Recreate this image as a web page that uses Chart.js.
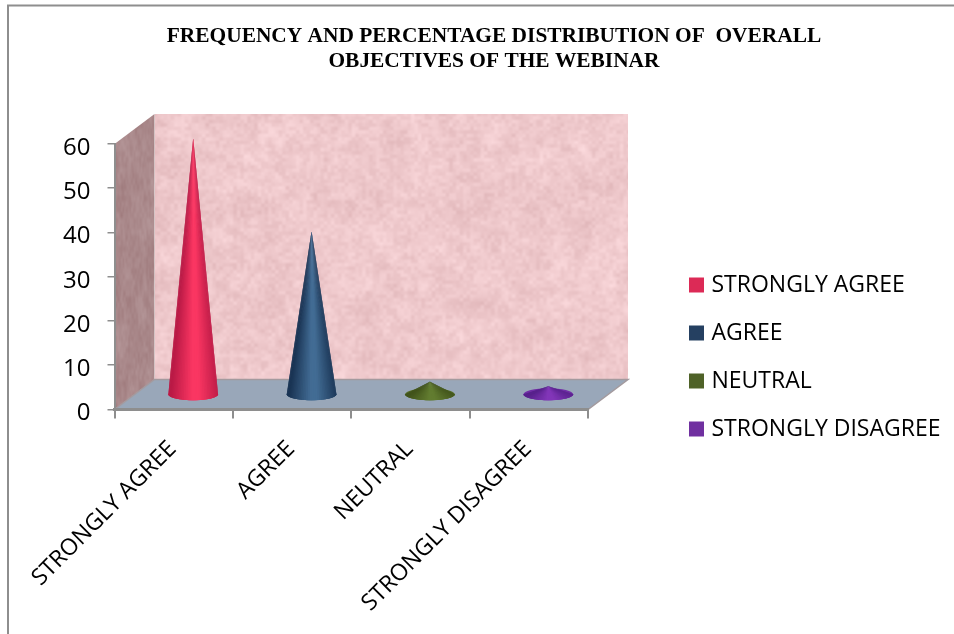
<!DOCTYPE html>
<html>
<head>
<meta charset="utf-8">
<title>Overall objectives of the webinar</title>
<script src="https://cdn.jsdelivr.net/npm/chart.js@4/dist/chart.umd.min.js"></script>
<style>
  html, body { margin: 0; padding: 0; background: #fff; }
  canvas { display: block; }
</style>
</head>
<body>
<canvas id="grafico" width="954" height="634"></canvas>
<script>
const categorias = ['STRONGLY AGREE', 'AGREE', 'NEUTRAL', 'STRONGLY DISAGREE'];
const valores = [58, 37, 3, 2];
const colores = ['#dc2a56', '#254061', '#4f6228', '#7030a0'];
const coloresCentro = [[250, 54, 98], [66, 108, 148], [98, 124, 48], [130, 54, 184]];
const coloresBorde = [[186, 26, 70], [26, 52, 84], [66, 84, 28], [88, 34, 140]];
const titulo = ['FREQUENCY AND PERCENTAGE DISTRIBUTION OF  OVERALL', 'OBJECTIVES OF THE WEBINAR'];

const FUENTE = '"Open Sans"';
const GRIS = '#8e8e8e';
const FONDO_X = 40, FONDO_Y = 30;   // profundidad de la caja 3D
const CONO_X = 19.5, CONO_Y = 14.5; // los conos van en la mitad de la profundidad
const ELIPSE_Y = 6;
const GAJOS = 40;

// ruido determinista para la textura de las paredes
const azar = (x, y) => {
    const s = Math.sin(x * 12.9898 + y * 78.233) * 43758.5453;
    return s - Math.floor(s);
};
const suave = (x, y) => {
    const x0 = Math.floor(x), y0 = Math.floor(y);
    const fx = x - x0, fy = y - y0;
    const u = fx * fx * (3 - 2 * fx), v = fy * fy * (3 - 2 * fy);
    const a = azar(x0, y0), b = azar(x0 + 1, y0), c = azar(x0, y0 + 1), d = azar(x0 + 1, y0 + 1);
    return a + (b - a) * u + (c - a) * v + (a - b - c + d) * u * v;
};
const textura = (w, h, base, fuerza, escX, escY) => {
    const c = document.createElement('canvas');
    c.width = w; c.height = h;
    const g = c.getContext('2d');
    const img = g.createImageData(w, h);
    for (let y = 0; y < h; y++) {
        for (let x = 0; x < w; x++) {
            const n = suave(x / (24 * escX), y / (24 * escY)) * 0.3
                + suave(x / (9 * escX) + 7, y / (9 * escY) + 3) * 0.3
                + suave(x / (3.5 * escX) + 11, y / (3.5 * escY) + 5) * 0.4 - 0.5;
            const i = (y * w + x) * 4;
            img.data[i] = base[0] + n * fuerza;
            img.data[i + 1] = base[1] + n * fuerza * 1.3;
            img.data[i + 2] = base[2] + n * fuerza * 1.3;
            img.data[i + 3] = 255;
        }
    }
    g.putImageData(img, 0, 0);
    return c;
};
const texturaFondo = textura(476, 266, [238, 200, 203], 30, 1, 1);
const texturaLado = textura(41, 296, [170, 137, 139], 28, 0.4, 1.6);

const mezcla = (a, b, t) => `rgb(${a.map((v, k) => Math.round(v + (b[k] - v) * t)).join(',')})`;

// elemento cono: usa la misma geometría que la barra
class ConeElement extends Chart.BarElement {
    draw(ctx) {
        const i = this.$context.dataIndex;
        const cx = this.x + CONO_X;
        const baseY = this.base - CONO_Y;
        const puntaY = this.y - CONO_Y;
        const r = this.width / 2;
        ctx.save();
        ctx.fillStyle = mezcla(coloresBorde[i], coloresCentro[i], 0.6);
        ctx.beginPath();
        ctx.ellipse(cx, baseY, r, ELIPSE_Y, 0, 0, Math.PI * 2);
        ctx.fill();
        // sombreado en gajos desde la punta hasta la mitad inferior de la base;
        // cada gajo pisa al siguiente para que no se vean las uniones
        for (let j = 0; j < GAJOS; j++) {
            const a0 = Math.PI - Math.PI * j / GAJOS;
            const a1 = Math.PI - Math.PI * Math.min(j + 2, GAJOS) / GAJOS;
            const am = Math.PI - Math.PI * (j + 0.5) / GAJOS;
            const t = 1 - Math.abs(Math.cos(am) - 0.1);
            ctx.fillStyle = mezcla(coloresBorde[i], coloresCentro[i], Math.max(0, Math.min(1, t * 1.15)));
            ctx.beginPath();
            ctx.moveTo(cx, puntaY);
            ctx.lineTo(cx + r * Math.cos(a0), baseY + ELIPSE_Y * Math.sin(a0));
            ctx.lineTo(cx + r * Math.cos(am), baseY + ELIPSE_Y * Math.sin(am));
            ctx.lineTo(cx + r * Math.cos(a1), baseY + ELIPSE_Y * Math.sin(a1));
            ctx.closePath();
            ctx.fill();
        }
        ctx.restore();
    }
}
ConeElement.id = 'cone';
ConeElement.defaults = Chart.BarElement.defaults;

class ConeController extends Chart.BarController {}
ConeController.id = 'cone';
ConeController.defaults = { ...Chart.BarController.defaults, dataElementType: 'cone' };
ConeController.overrides = Chart.BarController.overrides;

Chart.register(ConeElement, ConeController);

// marco de la página y caja 3D (paredes y piso) detrás de los ejes
const caja3d = {
    id: 'caja3d',
    beforeInit(chart) {
        const fit = chart.legend.fit;
        chart.legend.fit = function () {
            fit.call(this);
            this.width = 366; // deja el área del gráfico hasta x=588
        };
    },
    afterLayout(chart) {
        chart.legend.left = 668;
        chart.legend.right = 954;
        chart.legend.top = 148;
        chart.legend.bottom = 566;
    },
    beforeDraw(chart) {
        const { ctx, chartArea: a } = chart;
        ctx.save();
        ctx.strokeStyle = GRIS;
        ctx.lineWidth = 2;
        ctx.beginPath();
        ctx.moveTo(8, 634);
        ctx.lineTo(8, 5.5);
        ctx.lineTo(954, 5.5);
        ctx.stroke();

        // pared de fondo
        ctx.drawImage(texturaFondo, a.left + FONDO_X, a.top - FONDO_Y, a.width, a.height);

        // pared lateral
        ctx.save();
        ctx.beginPath();
        ctx.moveTo(a.left, a.top);
        ctx.lineTo(a.left + FONDO_X, a.top - FONDO_Y);
        ctx.lineTo(a.left + FONDO_X, a.bottom - FONDO_Y);
        ctx.lineTo(a.left, a.bottom);
        ctx.closePath();
        ctx.clip();
        ctx.drawImage(texturaLado, a.left, a.top - FONDO_Y);
        ctx.restore();

        // piso
        ctx.fillStyle = '#99a7b9';
        ctx.strokeStyle = '#a39a9e';
        ctx.lineWidth = 1.5;
        ctx.beginPath();
        ctx.moveTo(a.left, a.bottom);
        ctx.lineTo(a.left + FONDO_X, a.bottom - FONDO_Y);
        ctx.lineTo(a.right + FONDO_X, a.bottom - FONDO_Y);
        ctx.lineTo(a.right, a.bottom);
        ctx.closePath();
        ctx.fill();
        ctx.stroke();
        ctx.restore();
    },
};

new Chart(document.getElementById('grafico'), {
    type: 'cone',
    data: {
        labels: categorias,
        datasets: [{
            data: valores,
            backgroundColor: colores,
            categoryPercentage: 1,
            barPercentage: 0.42,
            clip: false,
        }],
    },
    options: {
        responsive: false,
        animation: false,
        layout: { padding: { left: 34, right: 0, top: 0, bottom: 0 } },
        plugins: {
            tooltip: { enabled: false },
            title: {
                display: true,
                text: titulo,
                color: '#000',
                font: { family: '"Liberation Serif"', size: 21.4, weight: 'bold', lineHeight: 1.168 },
                padding: { top: 24, bottom: 70 },
            },
            legend: {
                display: true,
                position: 'right',
                labels: {
                    // caja chica con borde grueso: el cuadro mide 15 px y el texto queda más cerca
                    boxWidth: 7,
                    boxHeight: 7,
                    padding: 25,
                    color: '#000',
                    font: { family: FUENTE, size: 23 },
                    generateLabels: () => categorias.map((nombre, i) => ({
                        text: nombre,
                        fillStyle: colores[i],
                        strokeStyle: colores[i],
                        lineWidth: 8,
                        hidden: false,
                        index: i,
                    })),
                },
            },
        },
        scales: {
            x: {
                grid: { offset: true, drawOnChartArea: false, color: GRIS, tickLength: 9, lineWidth: 2 },
                border: { color: GRIS, width: 3 },
                ticks: {
                    color: '#000',
                    font: { family: FUENTE, size: 23 },
                    maxRotation: 45,
                    minRotation: 45,
                    padding: 17,
                    labelOffset: -1,
                    autoSkip: false,
                },
                afterFit(scale) { scale.height = 224.5; },
            },
            y: {
                min: 0,
                max: 60,
                grid: { drawOnChartArea: false, color: GRIS, tickLength: 7, lineWidth: 1.5 },
                border: { color: GRIS, width: 2 },
                ticks: {
                    stepSize: 10,
                    color: '#000',
                    font: { family: FUENTE, size: 24 },
                    padding: 17,
                    labelOffset: 4,
                },
                afterFit(scale) { scale.width = 80.5; },
            },
        },
    },
    plugins: [caja3d],
});
</script>
</body>
</html>
